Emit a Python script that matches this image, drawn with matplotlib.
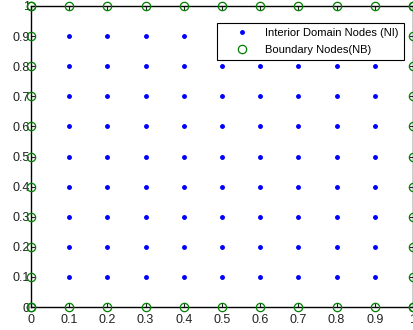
import numpy as np
import matplotlib.pyplot as plt

plt.rcParams['font.family'] = ['Liberation Sans', 'DejaVu Sans']

# grid coordinates
interior = [0.1, 0.2, 0.3, 0.4, 0.5, 0.6, 0.7, 0.8, 0.9]
edge = [0, 0.1, 0.2, 0.3, 0.4, 0.5, 0.6, 0.7, 0.8, 0.9, 1]
ticks = [0, 0.1, 0.2, 0.3, 0.4, 0.5, 0.6, 0.7, 0.8, 0.9, 1]
tick_labels = ['0', '0.1', '0.2', '0.3', '0.4', '0.5', '0.6', '0.7', '0.8', '0.9', '1']

xi, yi = np.meshgrid(interior, interior)
e = np.array(edge)
xb = np.concatenate([e, e, np.zeros_like(e), np.ones_like(e)])
yb = np.concatenate([np.zeros_like(e), np.ones_like(e), e, e])

fig = plt.figure(figsize=(4.14, 3.30), dpi=100)
ax = fig.add_axes([31 / 414, 23 / 330, 382 / 414, 301 / 330])

ax.plot(xi.ravel(), yi.ravel(), '.', color='blue', markersize=5,
        label='Interior Domain Nodes (NI)', zorder=2)
ax.plot(xb, yb, 'o', markerfacecolor='none', markeredgecolor='green',
        markersize=6, markeredgewidth=0.9, linestyle='none',
        label='Boundary Nodes(NB)', clip_on=False, zorder=3)

ax.set_xlim(0, 1)
ax.set_ylim(0, 1)
ax.set_xticks(ticks)
ax.set_xticklabels(tick_labels)
ax.set_yticks(ticks)
ax.set_yticklabels(tick_labels)
ax.tick_params(direction='in', top=True, right=True, length=3,
               labelsize=9, colors='#222222')
ax.tick_params(axis='x', pad=5)
ax.tick_params(axis='y', pad=1)
for s in ax.spines.values():
    s.set_linewidth(1.0)

leg = ax.legend(loc='upper right', bbox_to_anchor=(373 / 382, 1 - 17 / 301),
                fontsize=8, frameon=True, fancybox=False, framealpha=1,
                edgecolor='black', borderpad=0.45, labelspacing=0.65,
                handlelength=3.5, handletextpad=0.4, borderaxespad=0)
leg.get_frame().set_linewidth(0.8)
leg.set_zorder(5)

fig.savefig('out.png', dpi=100)
